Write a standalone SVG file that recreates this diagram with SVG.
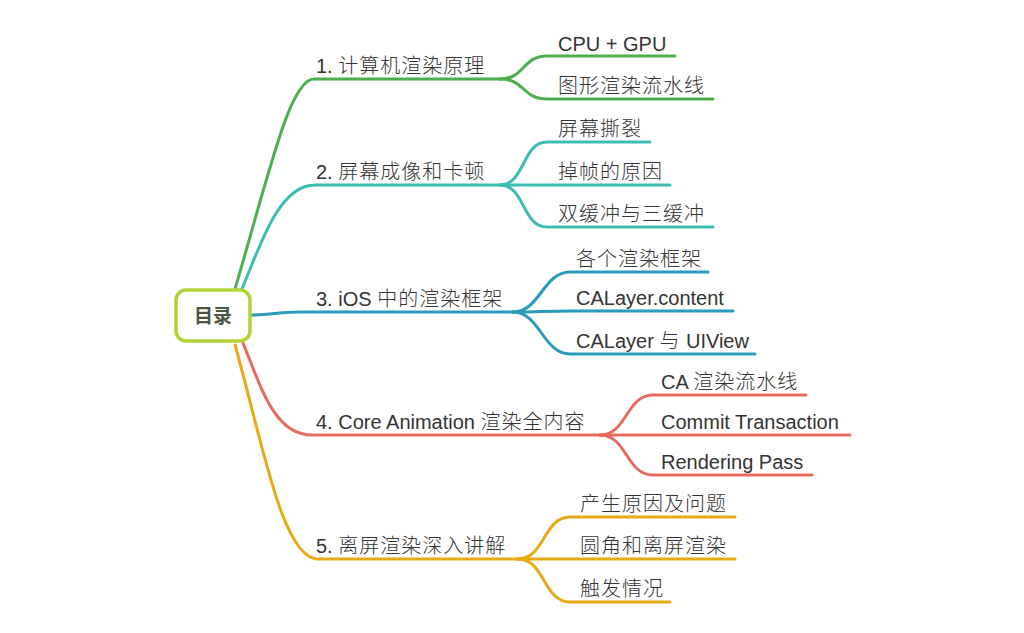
<svg xmlns="http://www.w3.org/2000/svg" width="1024" height="633" viewBox="0 0 1024 633">
<style>
.c{fill:none;stroke-width:3;stroke-linecap:round;stroke-linejoin:round}
.g{stroke:#4caf4f}.t{stroke:#3bbdb3}.b{stroke:#2a9bbb}.r{stroke:#e8695f}.y{stroke:#e9a814}
text{font-family:"Liberation Sans","Noto Sans CJK SC",sans-serif;font-size:20px;fill:#333333}
.k{letter-spacing:1px;font-weight:300}
.root{font-size:19px;font-weight:bold;fill:#4a5540;text-anchor:middle}
</style>
<rect width="1024" height="633" fill="#ffffff"/>
<g id="connectors">
  <path class="c g" d="M235,289 C270,170 290,79 314,79 L500,79"/>
  <path class="c g" d="M500,79 C525,79 522,56 547,56 L675,56"/>
  <path class="c g" d="M500,79 C525,79 522,99 547,99 L713,99"/>
  <path class="c t" d="M242,289 C262,240 280,185 315,185 L500,185"/>
  <path class="c t" d="M500,185 C525,185 522,142 547,142 L650,142"/>
  <path class="c t" d="M500,185 L670,185"/>
  <path class="c t" d="M500,185 C525,185 522,227 547,227 L713,227"/>
  <path class="c b" d="M250,315 C270,315 280,312 300,312 L513,312"/>
  <path class="c b" d="M513,312 C540,312 543,272 570,272 L708,272"/>
  <path class="c b" d="M513,312 C540,312 543,311 570,311 L733,311"/>
  <path class="c b" d="M513,312 C540,312 543,354 570,354 L755,354"/>
  <path class="c r" d="M243,343 C262,390 275,435 312,435 L600,435"/>
  <path class="c r" d="M600,435 C627,435 626,395 653,395 L806,395"/>
  <path class="c r" d="M600,435 L850,435"/>
  <path class="c r" d="M600,435 C627,435 626,475 653,475 L812,475"/>
  <path class="c y" d="M235,345 C262,440 282,559 318,559 L518,559"/>
  <path class="c y" d="M518,559 C545,559 543,517 570,517 L735,517"/>
  <path class="c y" d="M518,559 L735,559"/>
  <path class="c y" d="M518,559 C545,559 543,602 570,602 L670,602"/>
</g>
<g id="root">
  <rect x="176" y="290" width="74" height="51" rx="10" fill="#ffffff" stroke="#b3d335" stroke-width="3.5"/>
  <text class="root" x="213" y="323">目录</text>
</g>
<g id="b1"><text x="316" y="73">1. <tspan class="k">计算机渲染原理</tspan></text></g>
<g id="b1c1"><text x="558" y="51">CPU + GPU</text></g>
<g id="b1c2"><text x="558" y="93" class="k">图形渲染流水线</text></g>
<g id="b2"><text x="316" y="179">2. <tspan class="k">屏幕成像和卡顿</tspan></text></g>
<g id="b2c1"><text x="558" y="136" class="k">屏幕撕裂</text></g>
<g id="b2c2"><text x="558" y="179" class="k">掉帧的原因</text></g>
<g id="b2c3"><text x="558" y="221" class="k">双缓冲与三缓冲</text></g>
<g id="b3"><text x="316" y="306">3. iOS <tspan class="k">中的渲染框架</tspan></text></g>
<g id="b3c1"><text x="576" y="266" class="k">各个渲染框架</text></g>
<g id="b3c2"><text x="576" y="305">CALayer.content</text></g>
<g id="b3c3"><text x="576" y="348">CALayer <tspan class="k">与</tspan> UIView</text></g>
<g id="b4"><text x="316" y="429">4. Core Animation <tspan class="k">渲染全内容</tspan></text></g>
<g id="b4c1"><text x="661" y="389">CA <tspan class="k">渲染流水线</tspan></text></g>
<g id="b4c2"><text x="661" y="429">Commit Transaction</text></g>
<g id="b4c3"><text x="661" y="469">Rendering Pass</text></g>
<g id="b5"><text x="316" y="553">5. <tspan class="k">离屏渲染深入讲解</tspan></text></g>
<g id="b5c1"><text x="580" y="511" class="k">产生原因及问题</text></g>
<g id="b5c2"><text x="580" y="553" class="k">圆角和离屏渲染</text></g>
<g id="b5c3"><text x="580" y="596" class="k">触发情况</text></g>
</svg>
